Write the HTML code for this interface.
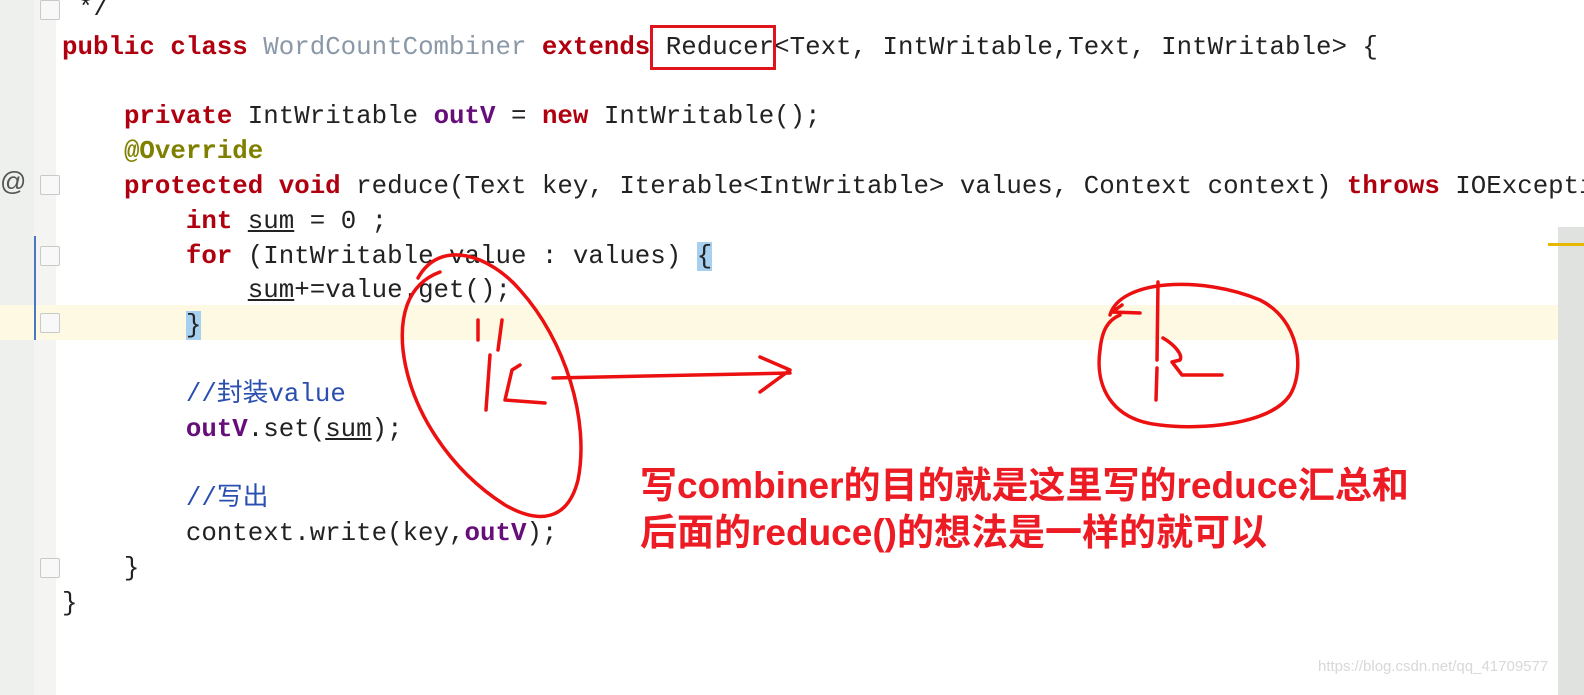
<!DOCTYPE html>
<html><head><meta charset="utf-8"><style>
html,body{margin:0;padding:0;}
body{width:1584px;height:695px;position:relative;overflow:hidden;background:#fff;font-family:"Liberation Mono","Noto Sans CJK SC",monospace;}
.g1{position:absolute;left:0;top:0;width:34px;height:695px;background:#eef0ee;}
.g2{position:absolute;left:34px;top:0;width:22px;height:695px;background:#f4f5f3;}
.hl{position:absolute;left:0;top:305px;width:1558px;height:35px;background:#fdf9e2;}
.sb{position:absolute;left:1558px;top:227px;width:26px;height:468px;background:#dfe2df;}
.ln{position:absolute;left:62px;white-space:pre;font-size:25.8px;line-height:35px;height:35px;color:#222;}
.k{color:#b00010;font-weight:bold;}
.p{color:#660e7a;font-weight:bold;}
.c{color:#8a98a8;}
.a{color:#808000;font-weight:bold;}
.cm{color:#2a4fb0;}
.u{text-decoration:underline;}
.br{background:#a6cff0;}
.fold{position:absolute;left:40px;width:18px;height:18px;border:1px solid #c8cac8;border-radius:2px;background:#f8f8f8;}
.red{position:absolute;left:640px;font-family:"Liberation Sans","Noto Sans CJK SC",sans-serif;font-weight:bold;font-size:37px;color:#ec1b24;white-space:nowrap;}
</style></head><body>
<div class="g1"></div><div class="g2"></div>
<div class="hl"></div>
<div class="sb"></div>
<div style="position:absolute;left:1548px;top:243px;width:36px;height:3px;background:#e6b800"></div>
<div style="position:absolute;left:34px;top:236px;width:2px;height:104px;background:#4a78c0"></div>
<div style="position:absolute;left:0;top:166px;font-family:'Liberation Sans',sans-serif;font-size:26px;color:#555">@</div>
<div class="fold" style="top:0px"></div>
<div class="fold" style="top:175px"></div>
<div class="fold" style="top:246px"></div>
<div class="fold" style="top:313px"></div>
<div class="fold" style="top:558px"></div>

<div class="ln" style="top:-9px;left:78px">*/</div>
<div class="ln" style="top:30px"><span class="k">public class</span> <span class="c">WordCountCombiner</span> <span class="k">extends</span> Reducer&lt;Text, IntWritable,Text, IntWritable&gt; {</div>
<div class="ln" style="top:99px">    <span class="k">private</span> IntWritable <span class="p">outV</span> = <span class="k">new</span> IntWritable();</div>
<div class="ln" style="top:134px">    <span class="a">@Override</span></div>
<div class="ln" style="top:169px">    <span class="k">protected void</span> reduce(Text key, Iterable&lt;IntWritable&gt; values, Context context) <span class="k">throws</span> IOExcepti</div>
<div class="ln" style="top:204px">        <span class="k">int</span> <span class="u">sum</span> = 0 ;</div>
<div class="ln" style="top:239px">        <span class="k">for</span> (IntWritable value : values) <span class="br">{</span></div>
<div class="ln" style="top:273px">            <span class="u">sum</span>+=value.get();</div>
<div class="ln" style="top:308px">        <span class="br">}</span></div>
<div class="ln" style="top:377px">        <span class="cm">//封装value</span></div>
<div class="ln" style="top:412px">        <span class="p">outV</span>.set(<span class="u">sum</span>);</div>
<div class="ln" style="top:481px">        <span class="cm">//写出</span></div>
<div class="ln" style="top:516px">        context.write(key,<span class="p">outV</span>);</div>
<div class="ln" style="top:551px">    }</div>
<div class="ln" style="top:586px">}</div>

<div style="position:absolute;left:650px;top:25px;width:126px;height:45px;border:3px solid #e0141c;box-sizing:border-box"></div>

<svg style="position:absolute;left:0;top:0" width="1584" height="695" fill="none" stroke="#ec1010" stroke-width="3.5" stroke-linecap="round" stroke-linejoin="round">
<path d="M418,278 C440,238 490,255 520,290 C565,340 590,420 578,480 C568,520 540,525 505,505 C450,470 410,410 403,350 C400,320 405,285 440,272"/>
<path d="M478,320 L478,340 M502,320 L498,350 M490,355 L486,410 M520,365 L512,370 L505,400 L545,403 M553,378 L790,373 M760,357 L790,370 L760,392"/>
<path d="M1110,315 C1120,280 1200,275 1260,300 C1300,320 1305,370 1290,395 C1270,425 1200,430 1160,425 C1110,420 1095,385 1100,350 C1102,330 1108,320 1120,315 M1122,305 L1115,310 M1112,312 L1140,313"/>
<path d="M1158,282 L1157,360 M1157,368 L1156,400 M1163,338 C1175,345 1183,355 1180,360 L1172,362 L1182,375 L1222,375"/>
</svg>

<div class="red" style="top:455px">写combiner的目的就是这里写的reduce汇总和</div>
<div class="red" style="top:502px">后面的reduce()的想法是一样的就可以</div>
<div style="position:absolute;left:1318px;top:658px;font-family:'Liberation Sans',sans-serif;font-size:15px;color:#d8d8d8">https://blog.csdn.net/qq_41709577</div>
</body></html>
